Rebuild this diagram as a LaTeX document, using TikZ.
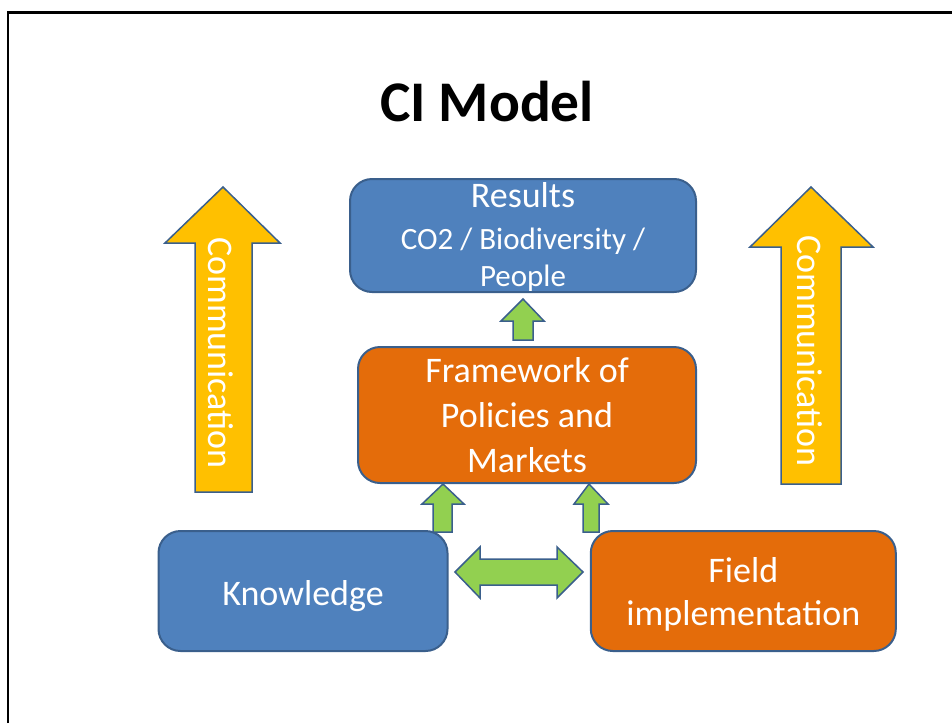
\documentclass[tikz,border=0pt]{standalone}
\usepackage{fontspec}
\setmainfont{Carlito}
\definecolor{ciblue}{HTML}{4F81BD}
\definecolor{ciline}{HTML}{3A5F8C}
\definecolor{ciorange}{HTML}{E46C0A}
\definecolor{cigreen}{HTML}{92D050}
\definecolor{ciyellow}{HTML}{FFC000}
\newcommand{\smalltext}{\fontsize{31}{37}\selectfont}

\begin{document}
\begin{tikzpicture}[x=1pt,y=-1pt]
\tikzstyle{every node}+=[inner sep=0pt]
\tikzstyle{box}=[draw=ciline,line width=2pt,rounded corners=22pt,text=white,align=center,font=\fontsize{36}{45}\selectfont]
\tikzstyle{bluebox}=[box,fill=ciblue]
\tikzstyle{orangebox}=[box,fill=ciorange]
\tikzstyle{greenarrow}=[draw=ciline,line width=1.5pt,fill=cigreen,line join=miter]
\tikzstyle{commarrow}=[draw=ciline,line width=1.5pt,fill=ciyellow,line join=miter]
\useasboundingbox (0,0) rectangle (952,723);
\draw [black,line width=2.5pt] (8,723) -- (8,12.5) -- (952,12.5);
\node (title) [anchor=base] at (487,121) {\fontsize{57.5}{60}\selectfont\bfseries CI Model};
% boxes
\node (results) [bluebox,minimum width=346pt,minimum height=113pt] at (523,235.5)
  {\rule{0pt}{28pt}Results\\[-3pt]\smalltext CO2 / Biodiversity /\\[-8pt]\smalltext People};
\node (framework) [orangebox,minimum width=338pt,minimum height=136pt] at (527,415)
  {Framework of\\Policies and\\Markets};
\node (knowledge) [bluebox,minimum width=289pt,minimum height=120pt] at (303,591) {\rule{0pt}{36pt}Knowledge};
\node (field) [orangebox,minimum width=305pt,minimum height=120pt] at (743.3,591)
  {\rule{0pt}{32pt}Field\\[-2pt]implementation};
% communication arrows
\draw [commarrow] (223,187) -- (280,243) -- (252,243) -- (252,492) -- (195,492) -- (195,243) -- (165,243) -- cycle;
\node (commleft) [rotate=-90,text=white,font=\fontsize{36}{45}\selectfont] at (221,353) {Communication};
\draw [commarrow] (811,187) -- (873,247) -- (841,247) -- (841,484) -- (781,484) -- (781,247) -- (750,247) -- cycle;
\node (commright) [rotate=-90,text=white,font=\fontsize{36}{45}\selectfont] at (810,351) {Communication};
% green arrows
\draw [greenarrow] (523,299) -- (544,321) -- (533,321) -- (533,340) -- (513,340) -- (513,321) -- (501,321) -- cycle;
\draw [greenarrow] (443,484) -- (464,504) -- (452,504) -- (452,532) -- (433,532) -- (433,504) -- (422,504) -- cycle;
\draw [greenarrow] (589,484) -- (608,504) -- (599,504) -- (599,532) -- (583,532) -- (583,504) -- (574,504) -- cycle;
\draw [greenarrow] (455,572) -- (480,547) -- (480,559) -- (557,559) -- (557,547) -- (583,572) -- (557,598) -- (557,585) -- (480,585) -- (480,598) -- cycle;
\end{tikzpicture}
\end{document}
